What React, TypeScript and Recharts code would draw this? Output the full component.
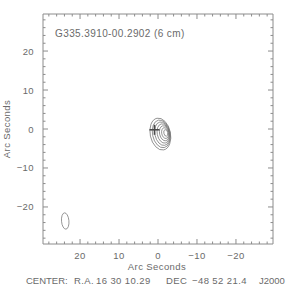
import React from "react"
import { ScatterChart, Scatter, XAxis, YAxis, ReferenceArea } from "recharts"

const W = 288
const H = 288
const PLOT = { left: 43, top: 14, width: 230, height: 230 }
const PB = PLOT.top + PLOT.height
const PR = PLOT.left + PLOT.width
const DOMAIN: [number, number] = [-29.5, 29.5]
const PX = PLOT.width / (DOMAIN[1] - DOMAIN[0])

const LINE = "#8c8c8c"
const TEXT = "#6a6a6a"
const FONT = "'Liberation Sans', Arial, sans-serif"

// arcsec tick positions (minor every 2, labelled every 10)
const TICKS = [-28, -26, -24, -22, -20, -18, -16, -14, -12, -10, -8, -6, -4, -2, 0, 2, 4, 6, 8, 10, 12, 14, 16, 18, 20, 22, 24, 26, 28]
const MAJOR = [-20, -10, 0, 10, 20]

// contour ellipses, outer to inner (arcsec)
const contourX = [-0.6, -0.85, -1.1, -1.35, -1.6, -1.8, -2.0]
const contourY = [-1.3, -1.25, -1.2, -1.15, -1.1, -1.05, -1.0]
const contourRx = [2.6, 2.25, 1.9, 1.55, 1.2, 0.85, 0.5]
const contourRy = [4.15, 3.6, 3.05, 2.5, 1.95, 1.4, 0.85]
const contourTilt = 12

const beamX = [23.8]
const beamY = [-23.6]
const beamRx = [0.95]
const beamRy = [2.1]
const beamTilt = 5

const peakX = [0.9]
const peakY = [-0.2]

const contours = contourX.map((x, i) => ({ x, y: contourY[i], rx: contourRx[i], ry: contourRy[i], tilt: contourTilt }))
const beam = beamX.map((x, i) => ({ x, y: beamY[i], rx: beamRx[i], ry: beamRy[i], tilt: beamTilt }))
const peak = peakX.map((x, i) => ({ x, y: peakY[i] }))

const fmt = (v: number) => (v < 0 ? `\u2212${-v}` : `${v}`)

const XTick = (props: any) => {
  const { x, payload } = props
  const major = MAJOR.includes(payload.value)
  const len = major ? 5 : 2.5
  return (
    <g>
      <line x1={x} x2={x} y1={PB} y2={PB - len} stroke={LINE} />
      <line x1={x} x2={x} y1={PLOT.top} y2={PLOT.top + len} stroke={LINE} />
      {major && (
        <text x={x} y={PB + 11} textAnchor="middle" dominantBaseline="central" fontSize={9.5} fontFamily={FONT} fill={TEXT} letterSpacing={0.4}>
          {fmt(payload.value)}
        </text>
      )}
    </g>
  )
}

const YTick = (props: any) => {
  const { y, payload } = props
  const major = MAJOR.includes(payload.value)
  const len = major ? 5 : 2.5
  return (
    <g>
      <line x1={PLOT.left} x2={PLOT.left + len} y1={y} y2={y} stroke={LINE} />
      <line x1={PR} x2={PR - len} y1={y} y2={y} stroke={LINE} />
      {major && (
        <text x={PLOT.left - 9} y={y} textAnchor="end" dominantBaseline="central" fontSize={9.5} fontFamily={FONT} fill={TEXT} letterSpacing={0.4}>
          {fmt(payload.value)}
        </text>
      )}
    </g>
  )
}

const EllipseShape = (props: any) => {
  const { cx, cy, payload } = props
  return (
    <ellipse
      cx={cx}
      cy={cy}
      rx={payload.rx * PX}
      ry={payload.ry * PX}
      transform={`rotate(${-payload.tilt} ${cx} ${cy})`}
      fill="none"
      stroke="#707070"
      strokeWidth={0.7}
    />
  )
}

const CrossShape = (props: any) => {
  const { cx, cy } = props
  return (
    <g stroke="#4a4a4a" strokeWidth={1.6}>
      <line x1={cx - 5} x2={cx + 5} y1={cy} y2={cy} />
      <line x1={cx} x2={cx} y1={cy - 5} y2={cy + 5} />
    </g>
  )
}

export default function App() {
  return (
    <div style={{ position: "fixed", left: 0, top: 0, width: W, height: H, background: "#fff" }}>
      <ScatterChart width={W} height={H} margin={{ top: PLOT.top, right: W - PR, bottom: 0, left: 0 }}>
        <XAxis
          type="number"
          dataKey="x"
          domain={DOMAIN}
          reversed
          allowDataOverflow
          ticks={TICKS}
          interval={0}
          height={H - PB}
          axisLine={false}
          tickLine={false}
          tick={(p: any) => <XTick {...p} />}
        />
        <YAxis
          type="number"
          dataKey="y"
          domain={DOMAIN}
          allowDataOverflow
          ticks={TICKS}
          interval={0}
          width={PLOT.left}
          axisLine={false}
          tickLine={false}
          tick={(p: any) => <YTick {...p} />}
        />
        <ReferenceArea x1={DOMAIN[0]} x2={DOMAIN[1]} y1={DOMAIN[0]} y2={DOMAIN[1]} fill="none" stroke={LINE} strokeWidth={1} />
        <Scatter data={contours} shape={(p: any) => <EllipseShape {...p} />} isAnimationActive={false} />
        <Scatter data={beam} shape={(p: any) => <EllipseShape {...p} />} isAnimationActive={false} />
        <Scatter data={peak} shape={(p: any) => <CrossShape {...p} />} isAnimationActive={false} />
      </ScatterChart>
      <svg width={W} height={H} style={{ position: "absolute", left: 0, top: 0, pointerEvents: "none" }}>
        <g fontSize={9.5} fontFamily={FONT} fill={TEXT} dominantBaseline="central" letterSpacing={0.4}>
          <text x={55} y={33} fontSize={10}>G335.3910-00.2902 (6 cm)</text>
          <text x={(PLOT.left + PR) / 2 - 1} y={266.5} textAnchor="middle">Arc Seconds</text>
          <text x={6} y={PLOT.top + PLOT.height / 2} textAnchor="middle" transform={`rotate(-90 6 ${PLOT.top + PLOT.height / 2})`}>
            Arc Seconds
          </text>
          <text x={26} y={280} letterSpacing={0}>CENTER:</text>
          <text x={74} y={280}>R.A.</text>
          <text x={96} y={280}>16 30 10.29</text>
          <text x={166} y={280}>DEC</text>
          <text x={192} y={280}>{"\u221248 52 21.4"}</text>
          <text x={259} y={280} letterSpacing={0}>J2000</text>
        </g>
      </svg>
    </div>
  )
}
